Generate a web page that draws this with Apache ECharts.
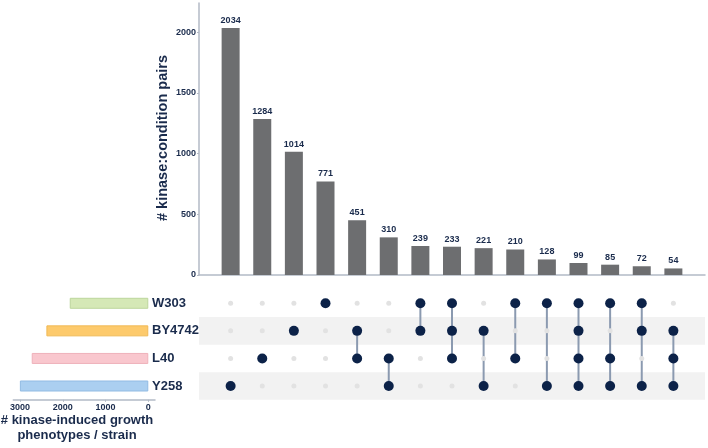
<!DOCTYPE html>
<html><head><meta charset="utf-8">
<script src="https://cdn.jsdelivr.net/npm/echarts@6/dist/echarts.min.js"></script>
<style>html,body{margin:0;padding:0;background:#fff}#c{width:708px;height:448px}</style>
</head><body><div id="c"></div>
<script>
const strains = ['W303', 'BY4742', 'L40', 'Y258'];
const strainTotals = [1837, 2383, 2726, 3003];
const strainColors = ['#d5e8b6', '#fdca6c', '#f9c7ce', '#abcff0'];
const strainBorders = ['#bcd59c', '#f0b955', '#efb1ba', '#92bbe3'];
const combos = [
  ['Y258'], ['L40'], ['BY4742'], ['W303'],
  ['BY4742', 'L40'], ['L40', 'Y258'], ['W303', 'BY4742'], ['W303', 'BY4742', 'L40'],
  ['BY4742', 'Y258'], ['W303', 'L40'], ['W303', 'Y258'], ['W303', 'BY4742', 'L40', 'Y258'],
  ['W303', 'L40', 'Y258'], ['W303', 'BY4742', 'Y258'], ['BY4742', 'L40', 'Y258']
];
const counts = [2034, 1284, 1014, 771, 451, 310, 239, 233, 221, 210, 128, 99, 85, 72, 54];
const countTicks = [0, 500, 1000, 1500, 2000];
const strainTicks = [0, 1000, 2000, 3000];

const navy = '#1a2b4c';
const font = "'Liberation Sans', Arial, sans-serif";
const axisGrey = '#b3bac6';

const barData = counts.map((v, i) => [i + 1, v]);
const bgDots = [];
const fgDots = [];
const links = [];
combos.forEach((c, i) => {
  const idx = c.map(s => strains.indexOf(s));
  strains.forEach((s, r) => { if (idx.indexOf(r) < 0) bgDots.push([i + 1, r]); });
  idx.forEach(r => fgDots.push([i + 1, r]));
  if (idx.length > 1) links.push([i + 1, Math.min(...idx), Math.max(...idx)]);
});

const plain = v => String(Math.round(v));

const chart = echarts.init(document.getElementById('c'), null, { renderer: 'canvas' });
chart.setOption({
  animation: false,
  backgroundColor: '#ffffff',
  textStyle: { fontFamily: font },
  grid: [
    { left: 199, right: 3, top: 3, bottom: 173 },
    { left: 199, right: 3, top: 289.5, bottom: 48.2 },
    { left: 13.3, right: 553, top: 289.5, bottom: 48.2 }
  ],
  xAxis: [
    { gridIndex: 0, type: 'value', min: 0, max: 16, axisLine: { show: true, onZero: false, lineStyle: { color: axisGrey, width: 1.5 } },
      axisTick: { show: false }, axisLabel: { show: false }, splitLine: { show: false } },
    { gridIndex: 1, type: 'value', min: 0, max: 16, show: false, splitLine: { show: false } },
    { gridIndex: 2, type: 'value', inverse: true, min: -157, max: 3157,
      axisLine: { show: true, onZero: false, lineStyle: { color: axisGrey, width: 1.5 } },
      axisTick: { show: true, length: 2, lineStyle: { color: axisGrey }, customValues: strainTicks },
      axisLabel: { customValues: strainTicks, formatter: plain, color: navy, fontWeight: 'bold', fontSize: 9, margin: 3, fontFamily: font },
      splitLine: { show: false } }
  ],
  yAxis: [
    { gridIndex: 0, type: 'value', min: 0, max: 2240,
      axisLine: { show: true, lineStyle: { color: axisGrey, width: 1.5 } },
      axisTick: { show: true, length: 2, lineStyle: { color: axisGrey }, customValues: countTicks },
      axisLabel: { customValues: countTicks, formatter: plain, color: navy, fontWeight: 'bold', fontSize: 9, margin: 3, fontFamily: font },
      splitLine: { show: false } },
    { gridIndex: 1, type: 'category', inverse: true, data: strains,
      axisLine: { show: false }, axisTick: { show: false },
      axisLabel: { align: 'left', margin: 47, color: navy, fontWeight: 'bold', fontSize: 13, fontFamily: font },
      splitLine: { show: false },
      splitArea: { show: true, areaStyle: { color: ['rgba(255,255,255,0)', '#f2f2f2'] } } },
    { gridIndex: 2, type: 'category', inverse: true, data: strains, show: false }
  ],
  graphic: [
    { type: 'text', x: 163, y: 138, rotation: Math.PI / 2,
      style: { text: '# kinase:condition pairs', fill: navy, font: "bold 14.5px 'Liberation Sans', Arial, sans-serif", textAlign: 'center', textVerticalAlign: 'middle' } },
    { type: 'text', x: 77, y: 428,
      style: { text: '# kinase-induced growth\nphenotypes / strain', fill: navy, font: "bold 13px 'Liberation Sans', Arial, sans-serif", textAlign: 'center', textVerticalAlign: 'middle', lineHeight: 15 } }
  ],
  series: [
    { type: 'bar', xAxisIndex: 0, yAxisIndex: 0, data: barData, barWidth: 18,
      itemStyle: { color: '#6d6e70' },
      label: { show: true, position: 'top', distance: 3, color: navy, fontWeight: 'bold', fontSize: 9, fontFamily: font,
        formatter: p => p.value[1] } },
    { type: 'custom', xAxisIndex: 1, yAxisIndex: 1, data: links, z: 2,
      renderItem: (params, api) => {
        const a = api.coord([api.value(0), api.value(1)]);
        const b = api.coord([api.value(0), api.value(2)]);
        return { type: 'line', shape: { x1: a[0], y1: a[1], x2: b[0], y2: b[1] },
          style: { stroke: '#8b9ab0', lineWidth: 2 } };
      } },
    { type: 'scatter', xAxisIndex: 1, yAxisIndex: 1, data: bgDots, symbolSize: 5,
      itemStyle: { color: '#e2e2e2', opacity: 1 }, z: 3 },
    { type: 'scatter', xAxisIndex: 1, yAxisIndex: 1, data: fgDots, symbolSize: 10,
      itemStyle: { color: '#0c2248', opacity: 1 }, z: 4 },
    { type: 'bar', xAxisIndex: 2, yAxisIndex: 2, barWidth: 11,
      data: strainTotals.map((v, i) => ({ value: v, itemStyle: { color: strainColors[i], borderColor: strainBorders[i], borderWidth: 1 } })) }
  ]
});
</script></body></html>
